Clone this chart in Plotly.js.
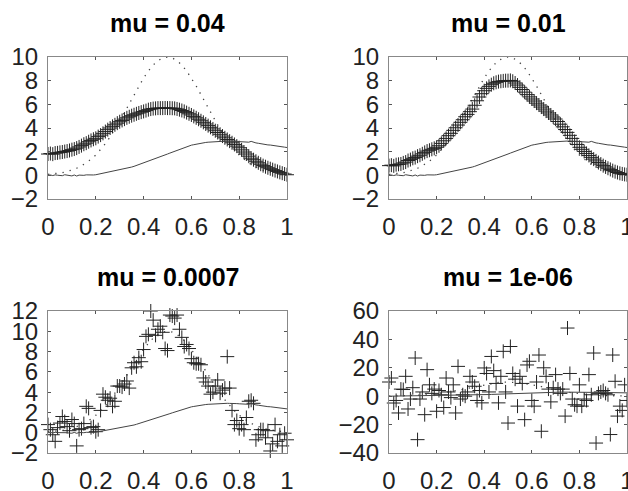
<!DOCTYPE html>
<html>
<head>
<meta charset="utf-8">
<script src="https://cdn.plot.ly/plotly-3.0.1.min.js"></script>
<style>html,body{margin:0;padding:0;background:#fff;}#chart{width:628px;height:491px;}</style>
</head>
<body>
<div id="chart"></div>
<script>
// Panel titles
var panelTitles = ["mu = 0.04", "mu = 0.01", "mu = 0.0007", "mu = 1e-06"];
// Tick labels
var xTickVals = [0, 0.2, 0.4, 0.6, 0.8, 1];
var xTickText = ["0", "0.2", "0.4", "0.6", "0.8", "1"];

// True function (dotted line), sampled every 0.02 from 0 to 1
var trueCurve = [0.08,0.11,0.16,0.23,0.32,0.44,0.60,0.80,1.05,1.35,1.72,2.16,2.67,3.25,3.89,4.58,5.31,6.07,6.82,7.55,8.23,8.82,9.32,9.69,9.92,10.0,9.92,9.69,9.32,8.82,8.23,7.55,6.82,6.07,5.31,4.58,3.89,3.25,2.67,2.16,1.72,1.35,1.05,0.80,0.60,0.44,0.32,0.23,0.16,0.11,0.08];

// Measured (blurred, noisy) data (solid line), every 0.01
var dataCurve = [0.00,0.03,-0.02,0.04,0.01,0.02,-0.03,0.05,0.00,-0.04,
-0.05,0.03,-0.06,0.02,-0.01,0.00,0.04,0.02,0.05,0.03,
0.05,0.09,0.12,0.16,0.20,0.25,0.28,0.33,0.37,0.41,
0.45,0.50,0.54,0.60,0.65,0.70,0.76,0.83,0.90,0.97,
1.05,1.11,1.18,1.26,1.33,1.40,1.48,1.57,1.64,1.72,
1.80,1.88,1.96,2.04,2.12,2.20,2.28,2.35,2.42,2.49,
2.55,2.59,2.64,2.68,2.72,2.75,2.78,2.80,2.82,2.84,
2.85,2.87,2.88,2.89,2.90,2.90,2.89,2.90,2.88,2.87,
2.85,2.84,2.82,2.83,2.80,2.87,2.78,2.74,2.71,2.66,
2.62,2.60,2.57,2.56,2.52,2.50,2.47,2.43,2.40,2.38,2.35];

// Regularised estimates (+ markers), every 0.01
var est004 = [1.80,1.84,1.79,1.88,1.90,1.94,1.97,2.01,2.05,2.10,
2.17,2.22,2.30,2.40,2.51,2.63,2.72,2.84,2.95,3.05,
3.13,3.27,3.40,3.55,3.70,3.86,4.00,4.14,4.27,4.41,
4.53,4.64,4.75,4.86,4.95,5.04,5.12,5.20,5.27,5.34,
5.40,5.47,5.55,5.60,5.64,5.66,5.68,5.68,5.68,5.69,
5.68,5.68,5.67,5.66,5.61,5.55,5.48,5.40,5.30,5.20,
5.10,4.98,4.86,4.74,4.61,4.48,4.34,4.20,4.06,3.92,
3.77,3.62,3.47,3.32,3.17,3.03,2.89,2.75,2.61,2.47,
2.33,2.15,1.97,1.80,1.62,1.45,1.32,1.19,1.06,0.94,
0.82,0.73,0.64,0.56,0.48,0.40,0.33,0.25,0.18,0.11,0.05];

var est001 = [0.82,0.86,0.80,0.90,0.93,0.96,1.05,1.12,1.25,1.33,
1.44,1.50,1.62,1.70,1.82,1.94,2.05,2.12,2.20,2.28,
2.37,2.50,2.70,2.92,3.12,3.35,3.55,3.80,4.02,4.25,
4.48,4.70,4.95,5.15,5.38,5.60,5.92,6.30,6.62,6.90,
7.15,7.35,7.52,7.66,7.78,7.86,7.92,7.95,7.98,8.00,
8.00,8.02,7.95,7.80,7.63,7.44,7.25,7.03,6.82,6.63,
6.45,6.28,6.10,5.94,5.77,5.60,5.43,5.27,5.10,4.93,
4.76,4.55,4.32,4.10,3.87,3.63,3.38,3.12,2.86,2.61,
2.37,2.20,2.02,1.85,1.68,1.52,1.37,1.22,1.08,0.95,
0.82,0.71,0.60,0.50,0.40,0.31,0.24,0.17,0.12,0.08,0.05];

var est00007 = [0.8,0.3,-0.2,-0.85,0.5,0.95,1.6,1.1,0.6,0.2,
1.3,0.9,-1.3,0.3,0.4,0.9,2.6,2.4,0.5,0.6,
0.1,0.3,2.2,3.8,3.5,3.2,3.4,2.6,3.1,4.6,
4.6,4.5,4.8,5.1,4.4,6.4,6.9,6.5,7.4,7.0,
8.2,9.5,9.7,12.0,11.1,9.6,10.2,10.5,9.9,8.3,
8.1,11.6,11.5,11.3,11.6,10.2,9.4,8.5,8.7,8.3,
7.3,6.9,6.8,6.8,6.7,5.4,5.0,4.6,3.8,4.0,
4.6,5.2,3.9,4.2,4.4,7.5,4.4,2.2,0.8,1.2,
0.4,0.8,0.3,1.5,3.1,3.2,2.9,-0.7,-0.2,0.3,
0.3,-0.5,0.2,-1.8,-1.1,0.8,-0.85,-0.2,-1.3,-0.05,-0.7];

var est1e6 = [10,12.8,-4.8,-3,-11.8,5,4.7,14,-9,-2,
6,26.9,-30.6,-2,3,-13,18.7,8,2,5,
-10.6,4,1,-8,12.8,3,-1,8,-11.8,21,
-2,1,0,3,14,10,7,-3,4,-4.7,
19.9,16,3,28,18,9,-4.7,14,31.6,3,
-18.9,35,16,12,-7,14,9,-16.5,22,24.6,
-3,-7,10,29,-24.7,20,14,5,-4,6,
15.2,5,2,5,-14,48,16,-2,-6,-7,
8,-7,-2,-3,15.2,1,30.4,-33,2,3,
4,2,1,-27,29,10.5,-14,-7,-10,8,-3];

var estimates = [est004, est001, est00007, est1e6];
var yRanges = [[-2,10],[-2,10],[-2,12],[-40,60]];
var yDticks = [2, 2, 2, 20];

var font = 'Liberation Sans, Arial, Helvetica, sans-serif';
var xDomains = [[48/628, 287/628],[389/628, 627/628],[48/628, 287/628],[389/628, 627/628]];
var yDomains = [[1-199/491, 1-57/491],[1-199/491, 1-57/491],[1-453/491, 1-311/491],[1-453/491, 1-311/491]];
var titleY = [1-23/491, 1-23/491, 1-277/491, 1-277/491];

var traces = [];
var layout = {
  width: 628, height: 491,
  margin: {l:0, r:0, t:0, b:0},
  paper_bgcolor: '#fff', plot_bgcolor: '#fff',
  showlegend: false,
  annotations: []
};

for (var i = 0; i < 4; i++) {
  var sfx = i === 0 ? '' : String(i+1);
  var xa = 'x' + sfx, ya = 'y' + sfx;
  traces.push({
    type: 'scatter', mode: 'lines', x0: 0, dx: 0.02, y: trueCurve,
    xaxis: xa, yaxis: ya, line: {color: '#444', width: 1.3, dash: '1.3px,6px'},
    hoverinfo: 'skip'
  });
  traces.push({
    type: 'scatter', mode: 'markers', x0: 0, dx: 0.01, y: estimates[i],
    xaxis: xa, yaxis: ya, cliponaxis: false,
    marker: {symbol: 'cross-thin', size: 10, color: '#222', line: {width: 1, color: '#222'}},
    hoverinfo: 'skip'
  });
  traces.push({
    type: 'scatter', mode: 'lines', x0: 0, dx: 0.01, y: dataCurve,
    xaxis: xa, yaxis: ya, line: {color: '#444', width: 1},
    hoverinfo: 'skip'
  });
  var common = {
    ticks: 'inside', ticklen: 3, tickcolor: '#555', tickwidth: 1,
    showline: true, linecolor: '#888', linewidth: 1, mirror: 'ticks',
    showgrid: false, zeroline: false, ticklabeloverflow: 'allow',
    tickfont: {family: font, size: 24, color: '#222'}
  };
  layout['xaxis' + sfx] = Object.assign({}, common, {
    domain: xDomains[i], anchor: ya, range: [0, 1],
    tickmode: 'array', tickvals: xTickVals, ticktext: xTickText,
    ticklabelstandoff: 6
  });
  layout['yaxis' + sfx] = Object.assign({}, common, {
    domain: yDomains[i], anchor: xa, range: yRanges[i],
    tickmode: 'linear', tick0: 0, dtick: yDticks[i],
    ticklabelstandoff: 4
  });
  layout.annotations.push({
    xref: 'paper', yref: 'paper', x: (xDomains[i][0] + xDomains[i][1]) / 2, y: titleY[i],
    xanchor: 'center', yanchor: 'middle', showarrow: false,
    text: panelTitles[i],
    font: {family: font, size: 25, color: '#000', weight: 'bold'}
  });
}

Plotly.newPlot('chart', traces, layout, {staticPlot: true, displayModeBar: false});
</script>
</body>
</html>
